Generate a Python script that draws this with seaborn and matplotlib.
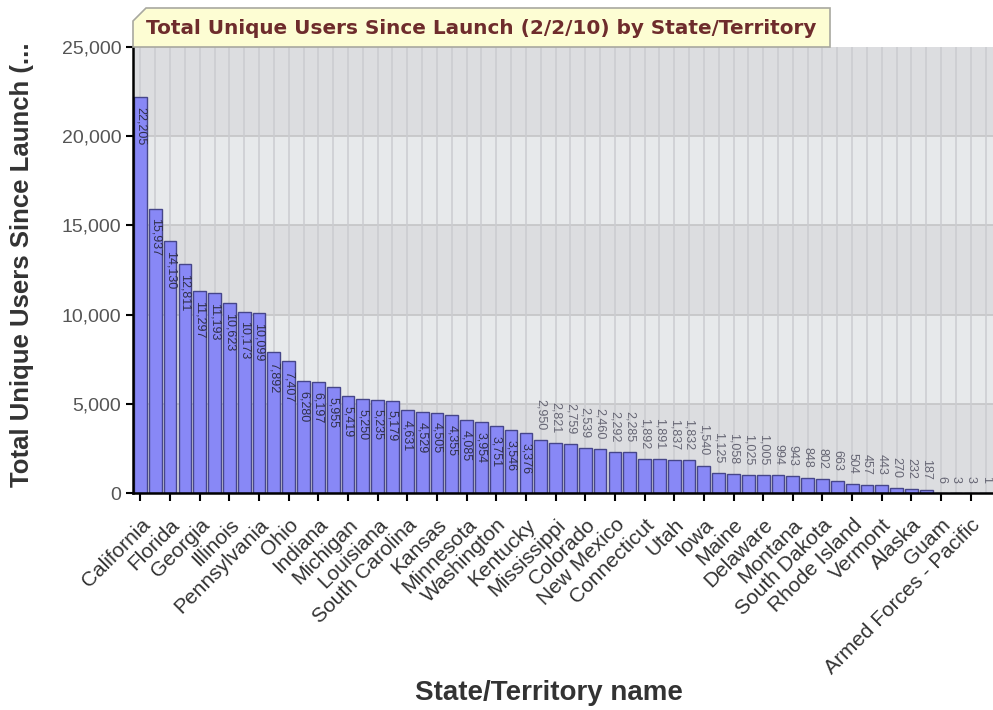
import matplotlib
matplotlib.use("Agg")
import matplotlib.pyplot as plt
import seaborn as sns
import pandas as pd
import numpy as np
from matplotlib.patches import Polygon
from matplotlib.ticker import FuncFormatter

states = [
    "California", "Texas", "Florida", "New York", "Georgia", "North Carolina",
    "Illinois", "Virginia", "Pennsylvania", "Tennessee", "Ohio", "Alabama",
    "Indiana", "Missouri", "Michigan", "Maryland", "Louisiana", "Wisconsin",
    "South Carolina", "Arizona", "Kansas", "Massachusetts", "Minnesota", "Oklahoma",
    "Washington", "Oregon", "Kentucky", "Arkansas", "Mississippi", "New Jersey",
    "Colorado", "Nevada", "New Mexico", "Idaho", "Connecticut", "West Virginia",
    "Utah", "Nebraska", "Iowa", "Hawaii", "Maine", "New Hampshire",
    "Delaware", "North Dakota", "Montana", "Wyoming", "South Dakota", "District of Columbia",
    "Rhode Island", "Puerto Rico", "Vermont", "Virgin Islands", "Alaska", "Armed Forces - Europe",
    "Guam", "Armed Forces - Americas", "Armed Forces - Pacific", "American Samoa",
]
users = [
    22205, 15937, 14130, 12811, 11297, 11193, 10623, 10173, 10099, 7892,
    7407, 6280, 6197, 5955, 5419, 5250, 5235, 5179, 4631, 4529,
    4505, 4355, 4085, 3954, 3751, 3546, 3376, 2950, 2821, 2759,
    2539, 2460, 2292, 2285, 1892, 1891, 1837, 1832, 1540, 1125,
    1058, 1025, 1005, 994, 943, 848, 802, 663, 504, 457,
    443, 270, 232, 187, 6, 3, 3, 1,
]
y_ticks = [0, 5000, 10000, 15000, 20000, 25000]
title = "Total Unique Users Since Launch (2/2/10) by State/Territory"
y_label = "Total Unique Users Since Launch (..."
x_label = "State/Territory name"

sns.set_style("white")
plt.rcParams["font.family"] = ["Liberation Sans", "DejaVu Sans"]

W, H = 993, 710
fig = plt.figure(figsize=(W / 100, H / 100), dpi=100)
left, right, top, bottom = 133, 993, 47, 493
ax = fig.add_axes([left / W, 1 - bottom / H, (right - left) / W, (bottom - top) / H])

df = pd.DataFrame({"state": states, "users": users})
sns.barplot(data=df, x="state", y="users", color="#8888f6", saturation=1,
            width=0.86, edgecolor="#46468a", linewidth=1.0, ax=ax, zorder=3)

n = len(states)
ax.set_xlim(-0.5, n - 0.5)
ax.set_ylim(0, 25000)

# background bands
for k in range(len(y_ticks) - 1):
    col = "#dcdde0" if k % 2 == 0 else "#e7e9eb"
    ax.axhspan(y_ticks[k], y_ticks[k + 1], color=col, zorder=0, lw=0)
for yv in y_ticks[1:-1]:
    ax.axhline(yv, color="#c4c4c6", lw=1.2, zorder=1)
for xv in range(n):
    ax.axvline(xv, color="#cbccd0", lw=1.1, zorder=1)

# value labels
for i, v in enumerate(users):
    if v > 3000:
        ax.text(i, v - 550, f"{v:,}", rotation=-90, ha="center", va="top",
                fontsize=9, color="#30304a", zorder=4)
    else:
        ax.text(i, v + 550, f"{v:,}", rotation=-90, ha="center", va="bottom",
                fontsize=9, color="#666674", zorder=4)

ax.set_yticks(y_ticks)
ax.yaxis.set_major_formatter(FuncFormatter(lambda v, p: f"{int(v):,}"))
ax.set_xticks(list(range(0, n, 2)))
ax.set_xticklabels(states[::2], rotation=45, ha="right", rotation_mode="anchor",
                   fontsize=15, color="#333333")
ax.tick_params(axis="y", labelsize=14, labelcolor="#555555", length=5, width=1.5,
               direction="out", left=True, color="black")
ax.tick_params(axis="x", length=6, width=1.5, direction="out", bottom=True,
               color="black", pad=10)
for s in ["top", "right"]:
    ax.spines[s].set_visible(False)
for s in ["left", "bottom"]:
    ax.spines[s].set_color("black")
    ax.spines[s].set_linewidth(1.8)
    ax.spines[s].set_zorder(5)

ax.set_xlabel("")
ax.set_ylabel("")
fig.text(549 / W, 1 - 693 / H, x_label, ha="center", va="center",
         fontsize=20, fontweight="bold", color="#333333")
fig.text(22 / W, 1 - 265 / H, y_label, ha="center", va="center", rotation=90,
         fontsize=18.5, fontweight="bold", color="#333333")

# title tab
pts = np.array([[133, 47], [133, 21], [146, 8], [830, 8], [830, 47]], dtype=float)
pts_fig = np.column_stack([pts[:, 0] / W, 1 - pts[:, 1] / H])
tab = Polygon(pts_fig, closed=True, transform=fig.transFigure, facecolor="#fdfdd3",
              edgecolor="#a8a8a0", lw=1.2, zorder=10)
fig.patches.append(tab)
fig.text(481 / W, 1 - 28 / H, title, ha="center", va="center", fontsize=14.4,
         fontweight="bold", color="#6e2c2c", family=["DejaVu Sans"], zorder=11)

fig.savefig("out.png", dpi=100)
